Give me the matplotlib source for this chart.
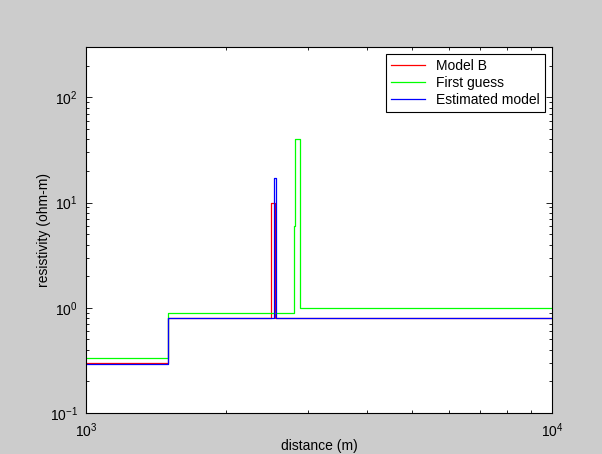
import matplotlib
matplotlib.use("Agg")
import matplotlib.pyplot as plt
import numpy as np

# layer boundaries (m) and resistivities (ohm-m) for each model
model_b_edges = [1000, 1500, 2500, 2550, 10000]
model_b_rho = [0.3, 0.8, 10, 0.8]

guess_edges = [1000, 1500, 2790, 2805, 2880, 10000]
guess_rho = [0.33, 0.9, 6, 40, 1.0]

est_edges = [1000, 1500, 2530, 2560, 10000]
est_rho = [0.295, 0.8, 17, 0.8]

labels = ["Model B", "First guess", "Estimated model"]

plt.rcParams["font.family"] = ["Liberation Sans", "DejaVu Sans"]
plt.rcParams["mathtext.default"] = "regular"

fig = plt.figure(figsize=(6.02, 4.54), dpi=100)
fig.patch.set_facecolor("#cccccc")
ax = fig.add_axes([0.1429, 0.0903, 0.7741, 0.8055])
ax.set_facecolor("white")


def steps(edges, rho):
    return np.array(edges), np.append(rho, rho[-1])


for (edges, rho), color, label in zip(
    [(model_b_edges, model_b_rho), (guess_edges, guess_rho), (est_edges, est_rho)],
    [(1, 0, 0), (0, 1, 0), (0, 0, 1)],
    labels,
):
    x, y = steps(edges, rho)
    ax.plot(x, y, drawstyle="steps-post", color=color, linewidth=0.9, label=label)

ax.set_xscale("log")
ax.set_yscale("log")
ax.set_xlim(1000, 10000)
ax.set_ylim(0.1, 300)

ax.tick_params(which="both", direction="in", top=True, right=True,
               width=0.6, labelsize=10, colors="black")
ax.tick_params(which="major", length=4.5, pad=6)
ax.tick_params(which="minor", length=2.5)
for s in ax.spines.values():
    s.set_linewidth(0.8)

ax.set_xlabel("distance (m)", fontsize=10, labelpad=-1)
ax.set_ylabel("resistivity (ohm-m)", fontsize=10, labelpad=-1)

leg = ax.legend(loc="upper right", fontsize=10, fancybox=False, framealpha=1,
                edgecolor="black", handlelength=2.5, borderpad=0.35,
                labelspacing=0.2, borderaxespad=0.5)
leg.get_frame().set_linewidth(0.8)

fig.savefig("out.png", dpi=100, facecolor=fig.get_facecolor())
